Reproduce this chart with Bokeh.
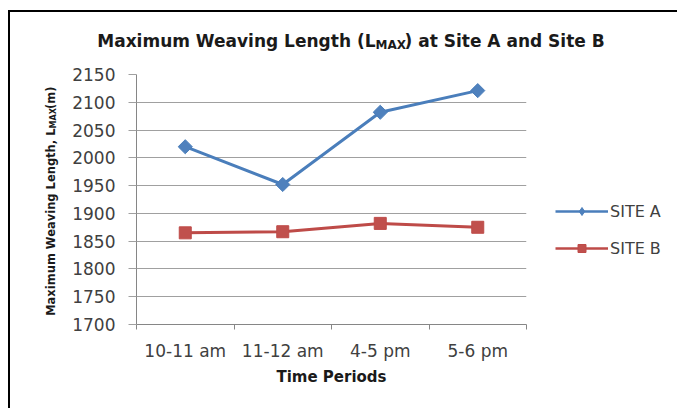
import math
import numpy as np
from bokeh.plotting import figure
from bokeh.layouts import row, column
from bokeh.models import (Range1d, FactorRange, LinearAxis, CategoricalAxis, FixedTicker,
                          Label, Legend, LegendItem, ColumnDataSource)
from bokeh.embed import file_html
from bokeh.resources import INLINE

# ---- data ----
categories = ["10-11 am", "11-12 am", "4-5 pm", "5-6 pm"]
site_a = [2020, 1952, 2082, 2121]
site_b = [1865, 1867, 1882, 1875]
series_names = ["SITE A", "SITE B"]
y_ticks = [1700, 1750, 1800, 1850, 1900, 1950, 2000, 2050, 2100, 2150]
title_parts = ["Maximum Weaving Length (L", "MAX", ") at Site A and Site B"]
ylabel_parts = ["Maximum Weaving Length, L", "MAX", " (m)"]
xlabel = "Time Periods"

FONT = "DejaVu Sans"
W, H = 677, 408
TH = 56                               # title strip height
PW = 540                              # width of the plotting figure; legend strip to its right
FL, FR, FT, FB = 136, 526, 74, 324   # frame edges in page pixels
Y0, Y1 = y_ticks[0], y_ticks[-1]
NC = len(categories)
COL_A = ("#4A7EBB", "#4F81BD")
COL_B = ("#BE4B48", "#C0504D")
MH = H - TH


def px_x(x):
    # page pixel -> synthetic coordinate of the factor range
    return (x - FL) / (FR - FL) * NC


def px_y(y):
    return Y1 - (y - FT) / (FB - FT) * (Y1 - Y0)


tkw = dict(text_font=FONT, text_font_style="bold", text_color="#1a1a1a",
           text_baseline="middle")

# ---- title strip ----
tf = figure(width=W, height=TH, x_range=Range1d(0, W), y_range=Range1d(TH, 0),
            output_backend="svg", toolbar_location=None,
            x_axis_location=None, y_axis_location=None, min_border=0)
tf.grid.visible = False
tf.outline_line_color = None
tf.background_fill_alpha = 0
tf.border_fill_alpha = 0
tf.styles = {"background": "linear-gradient(#000,#000) 8px 10px / 2px 100% no-repeat,"
                           " linear-gradient(#000,#000) 8px 10px / 100% 2px no-repeat, #fff"}
tf.add_layout(Label(x=375, y=40, text=title_parts[0], text_align="right",
                    text_font_size="17px", **tkw))
tf.add_layout(Label(x=375, y=44, text=title_parts[1], text_align="left",
                    text_font_size="12px", **tkw))
tf.add_layout(Label(x=404, y=40, text=title_parts[2], text_align="left",
                    text_font_size="17px", **tkw))

# ---- main plot ----
src = ColumnDataSource(dict(cat=categories, a=site_a, b=site_b))
p = figure(width=PW, height=MH, x_range=FactorRange(*categories),
           y_range=Range1d(Y0, Y1), output_backend="svg", toolbar_location=None,
           x_axis_location=None, y_axis_location="left",
           min_border_left=FL, min_border_right=PW - FR,
           min_border_top=FT - TH, min_border_bottom=H - FB)
p.background_fill_color = "white"
p.border_fill_alpha = 0
p.outline_line_color = None
p.styles = {"background": "linear-gradient(#000,#000) 8px 0 / 2px 100% no-repeat, #fff"}
for g in p.xgrid:
    g.visible = False

yax = p.yaxis[0]
yax.ticker = FixedTicker(ticks=y_ticks)
yax.major_tick_out = 8
yax.major_tick_in = 0
yax.minor_tick_line_color = None
yax.axis_line_color = "#868686"
yax.major_tick_line_color = "#a0a0a0"
yax.major_label_text_font = FONT
yax.major_label_text_font_size = "17px"
yax.major_label_text_color = "#404040"
yax.major_label_standoff = 13
p.ygrid.ticker = FixedTicker(ticks=y_ticks)
p.ygrid.grid_line_color = "#a0a0a0"
p.ygrid.grid_line_width = 1

bax = LinearAxis(ticker=FixedTicker(ticks=list(range(NC + 1))),
                 major_label_text_font_size="0px", major_label_standoff=0,
                 major_tick_out=5, major_tick_in=0, minor_tick_line_color=None,
                 axis_line_color="#868686", major_tick_line_color="#868686")
p.add_layout(bax, "below")
cax = CategoricalAxis(axis_line_color=None, major_tick_line_color=None,
                      minor_tick_line_color=None,
                      major_label_text_font=FONT, major_label_text_font_size="17px",
                      major_label_text_color="#404040", major_label_standoff=5,
                      axis_label=xlabel, axis_label_text_font=FONT,
                      axis_label_text_font_size="15px", axis_label_text_font_style="bold",
                      axis_label_text_color="#1a1a1a", axis_label_standoff=4)
p.add_layout(cax, "below")

p.line("cat", "a", source=src, line_color=COL_A[0], line_width=3)
p.scatter("cat", "a", source=src, marker="square", angle=math.pi / 4, size=10,
          fill_color=COL_A[1], line_color=COL_A[0])
p.line("cat", "b", source=src, line_color=COL_B[0], line_width=3)
p.scatter("cat", "b", source=src, marker="square", size=12,
          fill_color=COL_B[1], line_color=COL_B[0])

# y-axis title with subscript, rotated (in the left panel so it is not clipped)
p.add_layout(Label(x=px_x(50), y=px_y(128), text=ylabel_parts[0], text_align="right",
                   angle=math.pi / 2, text_font_size="11.5px", **tkw), "left")
p.add_layout(Label(x=px_x(53), y=px_y(128), text=ylabel_parts[1], text_align="left",
                   angle=math.pi / 2, text_font_size="8px", **tkw), "left")
p.add_layout(Label(x=px_x(50), y=px_y(108.5), text=ylabel_parts[2], text_align="left",
                   angle=math.pi / 2, text_font_size="11.5px", **tkw), "left")

# ---- legend strip (its own figure so the legend is not clipped) ----
LW = W - PW
lf = figure(width=LW, height=MH, x_range=Range1d(0, LW), y_range=Range1d(0, MH),
            output_backend="svg", toolbar_location=None,
            x_axis_location=None, y_axis_location=None, min_border=0)
lf.grid.visible = False
lf.outline_line_color = None
lf.background_fill_alpha = 0
lf.border_fill_alpha = 0
lf.styles = {"background": "#fff"}
# legend keys only: one non-drawable (NaN) point each, so nothing shows in the strip
key_src = ColumnDataSource(dict(x=np.array([np.nan]), y=np.array([np.nan])))
ka = [lf.line("x", "y", source=key_src, line_color=COL_A[0], line_width=2.5),
      lf.scatter("x", "y", source=key_src, marker="diamond", size=10,
                 fill_color=COL_A[1], line_color=COL_A[0])]
kb = [lf.line("x", "y", source=key_src, line_color=COL_B[0], line_width=2.5),
      lf.scatter("x", "y", source=key_src, marker="square", size=10,
                 fill_color=COL_B[1], line_color=COL_B[0])]
legend = Legend(items=[LegendItem(label=series_names[0], renderers=ka),
                       LegendItem(label=series_names[1], renderers=kb)],
                location=(555 - PW, 66), margin=0, padding=0,
                glyph_width=53, glyph_height=20, label_height=20, label_standoff=2,
                spacing=17, border_line_color=None, background_fill_alpha=0,
                label_text_font=FONT, label_text_font_size="16px",
                label_text_color="#404040")
lf.add_layout(legend)

layout = column(tf, row(p, lf, spacing=0), spacing=0)
open("out.html", "w").write(file_html(layout, INLINE))
